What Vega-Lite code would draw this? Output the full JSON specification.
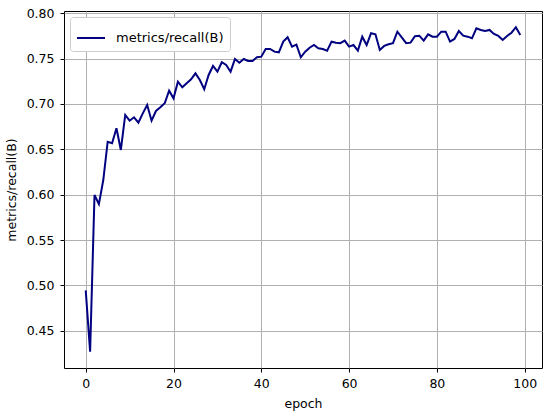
{
  "$schema": "https://vega.github.io/schema/vega-lite/v6.json",
  "width": 478,
  "height": 357,
  "autosize": {"type": "none"},
  "padding": {"left": 64, "top": 11, "right": 8, "bottom": 48},
  "background": "white",
  "config": {
    "font": "DejaVu Sans",
    "view": {"stroke": "black", "strokeWidth": 1},
    "axis": {
      "labelFont": "DejaVu Sans",
      "titleFont": "DejaVu Sans",
      "labelFontSize": 12.5,
      "titleFontSize": 12.5,
      "titleFontWeight": "normal",
      "labelColor": "black",
      "titleColor": "black",
      "tickColor": "black",
      "tickSize": 4,
      "domain": false,
      "gridColor": "#b0b0b0",
      "gridWidth": 1,
      "gridOpacity": 1
    }
  },
  "data": {
    "values": [
      {"epoch": 0, "recall": 0.4945},
      {"epoch": 1, "recall": 0.4269},
      {"epoch": 2, "recall": 0.5997},
      {"epoch": 3, "recall": 0.5897},
      {"epoch": 4, "recall": 0.6162},
      {"epoch": 5, "recall": 0.6584},
      {"epoch": 6, "recall": 0.6567},
      {"epoch": 7, "recall": 0.6732},
      {"epoch": 8, "recall": 0.6493},
      {"epoch": 9, "recall": 0.6879},
      {"epoch": 10, "recall": 0.6816},
      {"epoch": 11, "recall": 0.6853},
      {"epoch": 12, "recall": 0.6794},
      {"epoch": 13, "recall": 0.6897},
      {"epoch": 14, "recall": 0.6989},
      {"epoch": 15, "recall": 0.6816},
      {"epoch": 16, "recall": 0.6923},
      {"epoch": 17, "recall": 0.6964},
      {"epoch": 18, "recall": 0.7008},
      {"epoch": 19, "recall": 0.7147},
      {"epoch": 20, "recall": 0.7063},
      {"epoch": 21, "recall": 0.7246},
      {"epoch": 22, "recall": 0.7184},
      {"epoch": 23, "recall": 0.7228},
      {"epoch": 24, "recall": 0.7272},
      {"epoch": 25, "recall": 0.7338},
      {"epoch": 26, "recall": 0.7265},
      {"epoch": 27, "recall": 0.7162},
      {"epoch": 28, "recall": 0.7320},
      {"epoch": 29, "recall": 0.7419},
      {"epoch": 30, "recall": 0.7356},
      {"epoch": 31, "recall": 0.7460},
      {"epoch": 32, "recall": 0.7430},
      {"epoch": 33, "recall": 0.7356},
      {"epoch": 34, "recall": 0.7496},
      {"epoch": 35, "recall": 0.7455},
      {"epoch": 36, "recall": 0.7496},
      {"epoch": 37, "recall": 0.7474},
      {"epoch": 38, "recall": 0.7474},
      {"epoch": 39, "recall": 0.7515},
      {"epoch": 40, "recall": 0.7522},
      {"epoch": 41, "recall": 0.7606},
      {"epoch": 42, "recall": 0.7606},
      {"epoch": 43, "recall": 0.7577},
      {"epoch": 44, "recall": 0.7570},
      {"epoch": 45, "recall": 0.7687},
      {"epoch": 46, "recall": 0.7735},
      {"epoch": 47, "recall": 0.7632},
      {"epoch": 48, "recall": 0.7655},
      {"epoch": 49, "recall": 0.7515},
      {"epoch": 50, "recall": 0.7577},
      {"epoch": 51, "recall": 0.7620},
      {"epoch": 52, "recall": 0.7650},
      {"epoch": 53, "recall": 0.7614},
      {"epoch": 54, "recall": 0.7606},
      {"epoch": 55, "recall": 0.7588},
      {"epoch": 56, "recall": 0.7687},
      {"epoch": 57, "recall": 0.7676},
      {"epoch": 58, "recall": 0.7670},
      {"epoch": 59, "recall": 0.7698},
      {"epoch": 60, "recall": 0.7632},
      {"epoch": 61, "recall": 0.7650},
      {"epoch": 62, "recall": 0.7588},
      {"epoch": 63, "recall": 0.7742},
      {"epoch": 64, "recall": 0.7650},
      {"epoch": 65, "recall": 0.7780},
      {"epoch": 66, "recall": 0.7768},
      {"epoch": 67, "recall": 0.7595},
      {"epoch": 68, "recall": 0.7640},
      {"epoch": 69, "recall": 0.7658},
      {"epoch": 70, "recall": 0.7670},
      {"epoch": 71, "recall": 0.7797},
      {"epoch": 72, "recall": 0.7735},
      {"epoch": 73, "recall": 0.7670},
      {"epoch": 74, "recall": 0.7676},
      {"epoch": 75, "recall": 0.7748},
      {"epoch": 76, "recall": 0.7753},
      {"epoch": 77, "recall": 0.7698},
      {"epoch": 78, "recall": 0.7768},
      {"epoch": 79, "recall": 0.7742},
      {"epoch": 80, "recall": 0.7742},
      {"epoch": 81, "recall": 0.7797},
      {"epoch": 82, "recall": 0.7797},
      {"epoch": 83, "recall": 0.7687},
      {"epoch": 84, "recall": 0.7717},
      {"epoch": 85, "recall": 0.7805},
      {"epoch": 86, "recall": 0.7753},
      {"epoch": 87, "recall": 0.7742},
      {"epoch": 88, "recall": 0.7724},
      {"epoch": 89, "recall": 0.7835},
      {"epoch": 90, "recall": 0.7816},
      {"epoch": 91, "recall": 0.7805},
      {"epoch": 92, "recall": 0.7816},
      {"epoch": 93, "recall": 0.7772},
      {"epoch": 94, "recall": 0.7750},
      {"epoch": 95, "recall": 0.7706},
      {"epoch": 96, "recall": 0.7750},
      {"epoch": 97, "recall": 0.7786},
      {"epoch": 98, "recall": 0.7846},
      {"epoch": 99, "recall": 0.7760}
    ]
  },
  "mark": {"type": "line", "strokeWidth": 2, "clip": true},
  "encoding": {
    "x": {
      "field": "epoch",
      "type": "quantitative",
      "scale": {"domain": [-4.95, 103.95], "nice": false, "zero": false},
      "axis": {"values": [0, 20, 40, 60, 80, 100], "title": "epoch", "labelPadding": 5, "titlePadding": 8, "grid": true}
    },
    "y": {
      "field": "recall",
      "type": "quantitative",
      "scale": {"domain": [0.409, 0.8025], "nice": false, "zero": false},
      "axis": {"values": [0.45, 0.5, 0.55, 0.6, 0.65, 0.7, 0.75, 0.8], "format": ".2f", "title": "metrics/recall(B)", "labelPadding": 6, "titlePadding": 8, "grid": true}
    },
    "color": {
      "datum": "metrics/recall(B)",
      "type": "nominal",
      "scale": {"range": ["#000080"]},
      "legend": {
        "title": null,
        "orient": "top-left",
        "offset": 6,
        "padding": 6,
        "labelFontSize": 13,
        "labelFont": "DejaVu Sans",
        "labelColor": "black",
        "symbolType": "stroke",
        "symbolSize": 784,
        "symbolStrokeWidth": 2,
        "labelOffset": 10,
        "strokeColor": "#cccccc",
        "fillColor": "white",
        "cornerRadius": 3
      }
    }
  }
}
